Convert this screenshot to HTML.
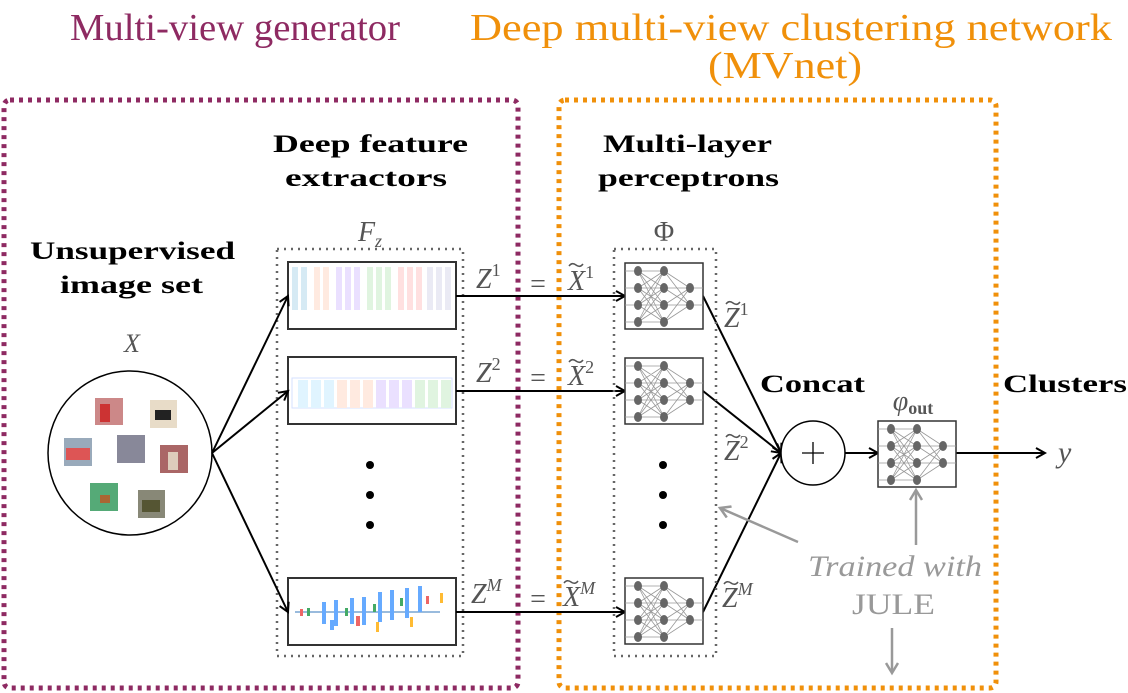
<!DOCTYPE html>
<html><head><meta charset="utf-8"><style>
html,body{margin:0;padding:0;background:#fff;}
svg{display:block;}
text{font-family:"Liberation Serif",serif;}
</style></head><body>
<svg width="1128" height="693" viewBox="0 0 1128 693" xmlns="http://www.w3.org/2000/svg">
<defs>
<marker id="ah" markerWidth="12" markerHeight="12" refX="10" refY="6" orient="auto" markerUnits="userSpaceOnUse">
<path d="M1,1 L10,6 L1,11" fill="none" stroke="#000" stroke-width="2"/></marker>
<marker id="ahg" markerWidth="14" markerHeight="14" refX="11" refY="7" orient="auto" markerUnits="userSpaceOnUse">
<path d="M1,1 L11,7 L1,13" fill="none" stroke="#999" stroke-width="2.5"/></marker>
<g id="mlp">
<rect x="0" y="0" width="78" height="66" fill="#fff" stroke="#333" stroke-width="1.5"/>
<g stroke="#999" stroke-width="0.8">
<path d="M0,8H13M0,25H13M0,42H13M0,59H13"/>
<path d="M13,8L39,8M13,8L39,25M13,8L39,42M13,8L39,59M13,25L39,8M13,25L39,25M13,25L39,42M13,25L39,59M13,42L39,8M13,42L39,25M13,42L39,42M13,42L39,59M13,59L39,8M13,59L39,25M13,59L39,42M13,59L39,59"/>
<path d="M39,8L65,25M39,8L65,42M39,25L65,25M39,25L65,42M39,42L65,25M39,42L65,42M39,59L65,25M39,59L65,42"/>
<path d="M65,25H78M65,42H78"/>
</g>
<g fill="#666">
<ellipse cx="13" cy="8" rx="4" ry="5"/><ellipse cx="13" cy="25" rx="4" ry="5"/><ellipse cx="13" cy="42" rx="4" ry="5"/><ellipse cx="13" cy="59" rx="4" ry="5"/>
<ellipse cx="39" cy="8" rx="4" ry="5"/><ellipse cx="39" cy="25" rx="4" ry="5"/><ellipse cx="39" cy="42" rx="4" ry="5"/><ellipse cx="39" cy="59" rx="4" ry="5"/>
<ellipse cx="65" cy="25" rx="4" ry="5"/><ellipse cx="65" cy="42" rx="4" ry="5"/>
</g>
</g>
</defs>

<text x="70" y="40" font-size="38" fill="#8e2a62" textLength="330" lengthAdjust="spacingAndGlyphs">Multi-view generator</text>
<text x="470" y="40" font-size="38" fill="#f0900a" textLength="642" lengthAdjust="spacingAndGlyphs">Deep multi-view clustering network</text>
<text x="708" y="78" font-size="38" fill="#f0900a" textLength="154" lengthAdjust="spacingAndGlyphs">(MVnet)</text>

<rect x="4" y="100" width="514" height="588" rx="6" fill="none" stroke="#8e2a62" stroke-width="5" stroke-dasharray="4 5"/>
<rect x="559" y="100" width="437" height="588" rx="6" fill="none" stroke="#f0900a" stroke-width="5" stroke-dasharray="4 5"/>

<g font-weight="bold" font-size="25" fill="#000" lengthAdjust="spacingAndGlyphs">
<text x="273" y="152" textLength="195" lengthAdjust="spacingAndGlyphs">Deep feature</text>
<text x="285" y="186" textLength="162" lengthAdjust="spacingAndGlyphs">extractors</text>
<text x="603" y="152" textLength="169" lengthAdjust="spacingAndGlyphs">Multi-layer</text>
<text x="598" y="186" textLength="181" lengthAdjust="spacingAndGlyphs">perceptrons</text>
<text x="30" y="259" textLength="205" lengthAdjust="spacingAndGlyphs">Unsupervised</text>
<text x="60" y="293" textLength="143" lengthAdjust="spacingAndGlyphs">image set</text>
<text x="760" y="392" textLength="105" lengthAdjust="spacingAndGlyphs">Concat</text>
<text x="1003" y="392" textLength="124" lengthAdjust="spacingAndGlyphs">Clusters</text>
</g>

<text x="132" y="352" font-size="26" font-style="italic" fill="#555" text-anchor="middle">X</text>
<circle cx="130" cy="453" r="82" fill="#fff" stroke="#000" stroke-width="1.5"/>
<rect x="95" y="398" width="28" height="27" fill="#c88"/><rect x="100" y="404" width="10" height="18" fill="#c33"/>
<rect x="150" y="400" width="27" height="28" fill="#e8dcc8"/><rect x="155" y="410" width="16" height="10" fill="#222"/>
<rect x="64" y="438" width="28" height="28" fill="#9ab"/><rect x="66" y="448" width="24" height="12" fill="#d55"/>
<rect x="117" y="435" width="28" height="28" fill="#889"/>
<rect x="160" y="445" width="28" height="28" fill="#a66"/><rect x="168" y="452" width="10" height="18" fill="#dcb"/>
<rect x="90" y="483" width="28" height="28" fill="#5a7"/><rect x="100" y="495" width="10" height="8" fill="#a63"/>
<rect x="138" y="490" width="27" height="28" fill="#887"/><rect x="142" y="500" width="18" height="12" fill="#553"/>

<text x="370" y="241" font-size="28" font-style="italic" fill="#555" text-anchor="middle">F<tspan font-size="18" dy="6">z</tspan></text>
<rect x="277" y="249" width="186" height="407" fill="none" stroke="#666" stroke-width="2.5" stroke-dasharray="2 5"/>

<rect x="288" y="262" width="168" height="67" fill="#fff" stroke="#333" stroke-width="2"/>
<g opacity="0.6">
<rect x="292" y="267" width="6" height="43" fill="#bde"/><rect x="301" y="267" width="6" height="43" fill="#bde"/>
<rect x="314" y="267" width="6" height="43" fill="#fdc"/><rect x="323" y="267" width="6" height="43" fill="#fdc"/>
<rect x="336" y="267" width="6" height="43" fill="#dcf"/><rect x="345" y="267" width="6" height="43" fill="#dcf"/><rect x="354" y="267" width="6" height="43" fill="#dcf"/>
<rect x="367" y="267" width="6" height="43" fill="#cec"/><rect x="376" y="267" width="6" height="43" fill="#cec"/><rect x="385" y="267" width="6" height="43" fill="#cec"/>
<rect x="398" y="267" width="6" height="43" fill="#fcc"/><rect x="407" y="267" width="6" height="43" fill="#fcc"/><rect x="416" y="267" width="6" height="43" fill="#fcc"/>
<rect x="427" y="267" width="6" height="43" fill="#dde"/><rect x="436" y="267" width="6" height="43" fill="#dde"/><rect x="445" y="267" width="6" height="43" fill="#dde"/>
</g>
<rect x="288" y="357" width="168" height="67" fill="#fff" stroke="#333" stroke-width="2"/>
<g opacity="0.6">
<rect x="292" y="378" width="160" height="30" fill="none" stroke="#bcf"/>
<rect x="298" y="380" width="10" height="28" fill="#cef"/><rect x="311" y="380" width="10" height="28" fill="#cef"/><rect x="324" y="380" width="10" height="28" fill="#cef"/>
<rect x="337" y="380" width="10" height="28" fill="#fdc"/><rect x="350" y="380" width="10" height="28" fill="#fdc"/><rect x="363" y="380" width="10" height="28" fill="#fdc"/>
<rect x="376" y="380" width="10" height="28" fill="#dcf"/><rect x="389" y="380" width="10" height="28" fill="#dcf"/><rect x="402" y="380" width="10" height="28" fill="#dcf"/>
<rect x="415" y="380" width="10" height="28" fill="#cec"/><rect x="428" y="380" width="10" height="28" fill="#cec"/><rect x="441" y="380" width="10" height="28" fill="#cec"/>
</g>
<rect x="288" y="578" width="168" height="67" fill="#fff" stroke="#333" stroke-width="2"/>
<g>
<path d="M295,612H440" stroke="#9bd" stroke-width="2"/>
<rect x="322" y="602" width="4" height="22" fill="#6af"/><rect x="334" y="600" width="4" height="26" fill="#6af"/>
<rect x="350" y="598" width="4" height="26" fill="#6af"/><rect x="362" y="597" width="4" height="28" fill="#6af"/>
<rect x="378" y="592" width="4" height="30" fill="#6af"/><rect x="390" y="590" width="4" height="30" fill="#6af"/>
<rect x="405" y="588" width="4" height="30" fill="#6af"/><rect x="418" y="586" width="4" height="26" fill="#6af"/>
<rect x="330" y="620" width="4" height="10" fill="#6af"/><rect x="356" y="616" width="4" height="10" fill="#e66"/>
<rect x="300" y="609" width="3" height="7" fill="#e66"/><rect x="307" y="608" width="3" height="8" fill="#4a6"/>
<rect x="345" y="608" width="3" height="8" fill="#4a6"/><rect x="373" y="604" width="3" height="8" fill="#4a6"/>
<rect x="400" y="598" width="3" height="8" fill="#4a6"/><rect x="426" y="596" width="3" height="8" fill="#e66"/>
<rect x="440" y="593" width="3" height="10" fill="#fb3"/><rect x="376" y="622" width="3" height="10" fill="#fb3"/><rect x="410" y="617" width="3" height="10" fill="#fb3"/>
</g>
<circle cx="370" cy="465" r="4" fill="#000"/><circle cx="370" cy="495" r="4" fill="#000"/><circle cx="370" cy="525" r="4" fill="#000"/>

<g stroke="#000" stroke-width="2" fill="none" marker-end="url(#ah)">
<line x1="212" y1="453" x2="288" y2="296"/>
<line x1="212" y1="453" x2="288" y2="391"/>
<line x1="212" y1="453" x2="288" y2="612"/>
<line x1="456" y1="296" x2="625" y2="296"/>
<line x1="456" y1="391" x2="625" y2="391"/>
<line x1="456" y1="612" x2="625" y2="612"/>
<line x1="703" y1="296" x2="781" y2="453"/>
<line x1="703" y1="391" x2="781" y2="453"/>
<line x1="703" y1="612" x2="781" y2="453"/>
<line x1="845" y1="453" x2="878" y2="453"/>
<line x1="955" y1="453" x2="1045" y2="453"/>
</g>

<g font-size="28" fill="#555" font-style="italic">
<text x="476" y="288">Z<tspan font-size="18" dy="-12" font-style="normal">1</tspan></text>
<text x="476" y="382">Z<tspan font-size="18" dy="-12" font-style="normal">2</tspan></text>
<text x="471" y="603">Z<tspan font-size="18" dy="-12">M</tspan></text>
<text x="568" y="290">X<tspan font-size="18" dy="-12" font-style="normal">1</tspan></text>
<text x="568" y="385">X<tspan font-size="18" dy="-12" font-style="normal">2</tspan></text>
<text x="563" y="606">X<tspan font-size="18" dy="-12">M</tspan></text>
<text x="724" y="327">Z<tspan font-size="18" dy="-12" font-style="normal">1</tspan></text>
<text x="724" y="460">Z<tspan font-size="18" dy="-12" font-style="normal">2</tspan></text>
<text x="722" y="607">Z<tspan font-size="18" dy="-12">M</tspan></text>
</g>
<g stroke="#555" stroke-width="1.5" fill="none">
<path d="M569,266q3,-4 7,-1t7,-1"/><path d="M569,362q3,-4 7,-1t7,-1"/><path d="M564,583q3,-4 7,-1t7,-1"/>
<path d="M726,304q3,-4 7,-1t7,-1"/><path d="M726,437q3,-4 7,-1t7,-1"/><path d="M724,584q3,-4 7,-1t7,-1"/>
</g>
<g font-size="28" fill="#555" text-anchor="middle">
<text x="538" y="293">=</text><text x="538" y="387">=</text><text x="538" y="608">=</text>
</g>

<text x="664" y="241" font-size="28" fill="#555" text-anchor="middle">Φ</text>
<rect x="614" y="249" width="102" height="407" fill="none" stroke="#666" stroke-width="2.5" stroke-dasharray="2 5"/>
<use href="#mlp" x="625" y="263"/>
<use href="#mlp" x="625" y="358"/>
<use href="#mlp" x="625" y="578"/>
<circle cx="663" cy="465" r="4" fill="#000"/><circle cx="663" cy="495" r="4" fill="#000"/><circle cx="663" cy="525" r="4" fill="#000"/>

<circle cx="813" cy="453" r="32" fill="#fff" stroke="#000" stroke-width="1.5"/>
<path d="M802,453H824M813,442V464" stroke="#000" stroke-width="1.3"/>
<text x="913" y="410" font-size="28" font-style="italic" fill="#555" text-anchor="middle">φ<tspan font-size="18" font-weight="bold" font-style="normal" dy="4">out</tspan></text>
<use href="#mlp" x="878" y="421"/>
<text x="1058" y="462" font-size="30" font-style="italic" fill="#555">y</text>

<g stroke="#999" stroke-width="2.5" fill="none" marker-end="url(#ahg)">
<line x1="798" y1="542" x2="720" y2="508"/>
<line x1="916" y1="545" x2="916" y2="490"/>
<line x1="892" y1="628" x2="892" y2="673"/>
</g>
<text x="808" y="576" font-size="30" font-style="italic" fill="#999" textLength="174" lengthAdjust="spacingAndGlyphs">Trained with</text>
<text x="852" y="614" font-size="30" fill="#999" textLength="83" lengthAdjust="spacingAndGlyphs">JULE</text>
</svg>
</body></html>
